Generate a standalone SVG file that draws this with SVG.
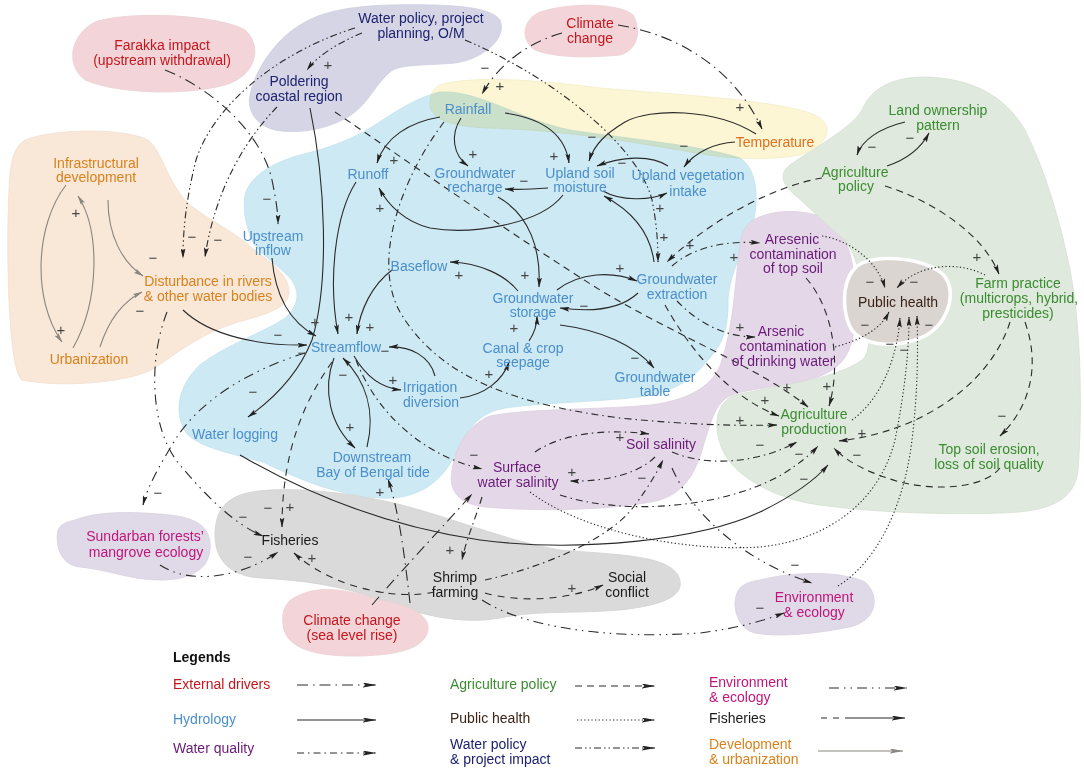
<svg xmlns="http://www.w3.org/2000/svg" width="1084" height="771" viewBox="0 0 1084 771">
<defs>
<style>
.t{font-family:"Liberation Sans",Arial,sans-serif;font-size:14px;text-anchor:middle}
.lg{font-family:"Liberation Sans",Arial,sans-serif;font-size:14px}
.s{font-family:"Liberation Sans",Arial,sans-serif;font-size:15px;fill:#444;text-anchor:middle}
.red{fill:#c4161c}.navy{fill:#1e2270}.blue{fill:#4a8fca}.orange{fill:#d9821c}.temp{fill:#e0701f}.green{fill:#3a8c30}.purple{fill:#6a1a78}.brown{fill:#3a2418}.black{fill:#1a1a1a}.mag{fill:#c0157a}
.c{fill:none;stroke:#2a2a2a;stroke-width:1.1;marker-end:url(#ah)}
.ext{stroke-dasharray:11 5 1.5 5}
.wq{stroke-dasharray:7 4 1.5 4}
.ag{stroke-dasharray:7 5}
.ph{stroke-dasharray:1.3 2.3}
.wp{stroke-dasharray:7 3 1.5 3 1.5 3}
.env{stroke-dasharray:10 5 1.5 5 1.5 5}
.fi{stroke-dasharray:7 6}
.dev{stroke:#8a8580;marker-end:url(#ahg)}
.leg{fill:none;stroke:#2a2a2a;stroke-width:1.2;marker-end:url(#lh)}
</style>
<marker id="ah" viewBox="0 0 10 5" refX="9.5" refY="2.5" markerWidth="10" markerHeight="5" markerUnits="userSpaceOnUse" orient="auto"><path d="M0,0 L10,2.5 L0,5 L2,2.5 Z" fill="#222"/></marker>
<marker id="ahg" viewBox="0 0 10 5" refX="9.5" refY="2.5" markerWidth="10" markerHeight="5" markerUnits="userSpaceOnUse" orient="auto"><path d="M0,0 L10,2.5 L0,5 L2,2.5 Z" fill="#8a8580"/></marker>
<marker id="lh" viewBox="0 0 14 5" refX="13.5" refY="2.5" markerWidth="14" markerHeight="5" markerUnits="userSpaceOnUse" orient="auto"><path d="M0,0 L14,2.5 L0,5 L3,2.5 Z" fill="#222"/></marker>
<marker id="lhg" viewBox="0 0 14 5" refX="13.5" refY="2.5" markerWidth="14" markerHeight="5" markerUnits="userSpaceOnUse" orient="auto"><path d="M0,0 L14,2.5 L0,5 L3,2.5 Z" fill="#8a8580"/></marker>
</defs>
<rect width="1084" height="771" fill="#fff"/>

<g id="regions" stroke-width="0.8">
<path d="M95,22 C130,10 220,15 245,30 C262,45 258,75 225,85 C190,95 120,95 85,80 C65,65 70,35 95,22 Z" fill="#f3d5d9" stroke="#ead0d3"/>
<path d="M250,95 C255,70 275,40 300,25 C320,12 350,6 390,5 C440,4 490,5 500,20 C508,40 480,60 455,63 C420,66 400,64 390,72 C375,85 370,100 355,112 C335,128 300,135 275,130 C255,125 247,110 250,95 Z" fill="#d5d5e5" stroke="#cfcfe0"/>
<path d="M540,12 C570,2 620,3 633,15 C642,30 638,50 620,55 C590,58 555,58 535,50 C520,40 522,20 540,12 Z" fill="#f3d5d9" stroke="#ead0d3"/>
<path d="M25,140 C55,128 125,128 148,140 C162,150 168,185 190,205 C212,222 235,232 252,248 C270,262 290,275 289,293 C288,308 265,315 238,322 C205,332 180,350 155,368 C130,383 60,388 22,380 C8,370 6,250 9,190 C10,160 14,147 25,140 Z" fill="#f9e7d8" stroke="#f0dfd0"/>
<path d="M245,195 C250,175 275,162 300,155 C330,148 355,138 375,125 C395,112 415,98 440,92 C480,90 520,120 570,130 C620,138 700,145 740,158 C760,170 760,210 748,238 C738,258 727,285 728,305 C728,330 722,345 708,360 C688,385 665,395 630,398 C590,402 540,403 505,408 C475,413 465,435 455,455 C440,485 415,500 380,498 C340,496 300,480 265,463 C240,455 205,450 188,435 C172,415 178,385 200,365 C225,345 265,332 285,318 C300,305 300,290 290,278 C275,262 255,252 250,235 C245,222 243,208 245,195 Z" fill="#cde9f4" stroke="#c3e2ee"/>
<path d="M440,85 C470,75 540,80 600,88 C680,95 780,100 815,115 C835,125 830,145 800,155 C760,162 720,158 680,150 C620,140 560,130 490,128 C450,127 428,118 430,102 C431,92 434,88 440,85 Z" fill="#fcf6d4" stroke="#f2ecc8" style="mix-blend-mode:multiply"/>
<path d="M750,222 C770,208 810,208 832,222 C852,236 857,280 855,320 C853,350 845,368 815,378 C780,388 750,388 732,395 C715,402 712,420 705,440 C698,465 690,490 660,500 C620,510 540,512 485,507 C458,504 448,490 452,470 C456,445 468,425 490,416 C530,408 600,410 650,405 C690,400 715,385 722,360 C732,330 735,290 738,260 C740,240 742,230 750,222 Z" fill="#e4d8e8" stroke="#dccfe0"/>
<path d="M790,165 C810,150 850,130 862,110 C870,90 890,77 925,77 C970,78 1005,95 1025,130 C1045,170 1060,220 1070,270 C1082,330 1082,420 1078,470 C1075,500 1050,512 1000,513 C940,515 870,512 820,505 C780,500 740,480 725,455 C712,430 714,403 735,395 C770,387 835,380 862,360 C880,348 860,255 845,240 C830,228 812,210 795,195 C780,183 780,172 790,165 Z" fill="#dfe9dd" stroke="#d5e0d3"/>
<path d="M862,265 C882,256 925,260 942,276 C956,292 946,322 925,334 C900,346 868,346 854,330 C843,314 842,276 862,265 Z" fill="#dad5d1" stroke="#fff" stroke-width="7" paint-order="stroke"/>
<path d="M240,495 C270,485 330,490 380,500 C440,512 500,540 560,550 C620,555 665,555 678,575 C688,595 665,605 620,610 C570,614 540,610 500,618 C460,625 420,615 380,600 C340,585 300,580 260,578 C230,576 215,560 215,535 C215,515 222,502 240,495 Z" fill="#dadada" stroke="#d2d2d2"/>
<path d="M300,595 C320,585 350,590 380,600 C410,605 430,615 428,630 C425,648 400,655 360,656 C320,657 290,650 284,630 C280,612 285,600 300,595 Z" fill="#f3d5d9" stroke="#ead0d3"/>
<path d="M75,520 C100,510 140,512 170,515 C200,518 212,530 210,550 C208,570 190,580 160,580 C130,580 110,570 80,567 C60,565 55,545 58,530 C60,525 65,522 75,520 Z" fill="#e0dae8" stroke="#d8d2e0"/>
<path d="M760,580 C790,572 840,570 865,582 C880,595 878,620 850,627 C820,633 780,638 755,633 C735,628 730,600 740,588 C745,583 752,581 760,580 Z" fill="#e0dae8" stroke="#d8d2e0"/>
</g>

<g id="connectors">
<path class="c dev" d="M66,185 C35,225 32,300 62,342"/>
<path class="c dev" d="M73,348 C100,300 100,230 78,196"/>
<path class="c dev" d="M108,200 C108,235 122,262 143,276"/>
<path class="c dev" d="M100,347 C108,322 122,302 142,292"/>
<path class="c ext" d="M165,70 C215,90 262,135 272,180 C276,200 278,212 278,224"/>
<path class="c ext" d="M562,33 C530,42 500,62 482,94"/>
<path class="c ext" d="M618,25 C680,35 735,70 762,129"/>
<path class="c ext" d="M410,603 C405,560 400,515 388,479"/>
<path class="c ext" d="M372,605 C400,572 440,530 472,494"/>
<path class="c wp" d="M362,33 C340,42 318,55 307,70"/>
<path class="c wp" d="M355,28 C270,55 212,110 196,160 C186,200 183,230 183,258"/>
<path class="c wp" d="M277,107 C245,140 215,190 205,257"/>
<path class="c wp" d="M465,40 C560,80 640,150 652,200 C657,225 658,245 658,262"/>
<path class="c" d="M440,117 C410,122 385,137 377,163"/>
<path class="c" d="M461,118 C450,135 453,155 468,166"/>
<path class="c" d="M505,113 C540,118 565,132 569,163"/>
<path class="c" d="M756,134 C715,108 650,108 625,122 C605,134 594,145 589,161"/>
<path class="c" d="M735,142 C715,143 695,152 684,167"/>
<path class="c" d="M668,166 C650,154 620,157 597,166"/>
<path class="c" d="M603,191 C620,201 650,201 667,193"/>
<path class="c" d="M548,188 C535,189 520,190 505,189"/>
<path class="c" d="M563,195 C540,225 470,235 430,228 C405,222 388,205 379,188"/>
<path class="c" d="M356,182 C335,215 328,280 338,334"/>
<path class="c" d="M272,258 C275,295 290,322 316,336"/>
<path class="c" d="M392,270 C372,285 360,310 357,334"/>
<path class="c" d="M518,291 C505,275 480,263 450,262"/>
<path class="c" d="M498,197 C530,215 541,250 539,287"/>
<path class="c" d="M557,290 C580,272 612,271 637,281"/>
<path class="c" d="M638,293 C620,310 590,312 560,308"/>
<path class="c" d="M560,325 C600,330 635,345 654,368"/>
<path class="c" d="M529,341 C535,332 537,323 537,316"/>
<path class="c" d="M460,398 C485,395 503,380 509,362"/>
<path class="c" d="M354,356 C365,375 380,388 401,390"/>
<path class="c" d="M435,376 C430,356 410,346 389,347"/>
<path class="c" d="M334,358 C322,390 330,425 355,448"/>
<path class="c" d="M367,447 C376,410 365,380 343,358"/>
<path class="c" d="M183,310 C210,336 260,346 307,345"/>
<path class="c" d="M310,108 C325,180 330,280 312,340 C298,375 272,400 248,417"/>
<path class="c" d="M240,455 C300,490 380,525 480,540 C580,553 700,540 760,512 C795,495 815,480 828,465"/>
<path class="c" d="M654,262 C650,230 630,210 604,196"/>
<path class="c" d="M887,166 C905,160 920,150 929,133"/>
<path class="c" d="M905,122 C880,128 862,140 857,155"/>
<path class="c fi" d="M332,362 C305,400 282,450 282,527"/>
<path class="c fi" d="M434,592 C400,600 335,590 294,553"/>
<path class="c fi" d="M485,593 C520,603 570,600 603,585"/>
<path class="c ag" d="M822,178 C780,185 715,215 667,262"/>
<path class="c ag" d="M885,186 C930,200 982,232 999,274"/>
<path class="c ag" d="M1025,322 C1042,370 1027,410 1000,436"/>
<path class="c ag" d="M1010,322 C990,385 920,432 839,441"/>
<path class="c ag" d="M1000,468 C985,487 940,492 900,482 C865,472 845,460 834,448"/>
<path class="c ag" d="M665,305 C690,350 730,398 779,416"/>
<path class="c ag" d="M335,112 C420,170 520,240 600,290 C680,338 760,368 808,407"/>
<path class="c ag" d="M806,278 C836,312 840,370 829,406"/>
<path class="c wq" d="M672,266 C692,248 725,240 760,243"/>
<path class="c wq" d="M677,301 C695,320 722,337 755,337"/>
<path class="c wq" d="M356,360 C375,410 420,455 482,469"/>
<path class="c wq" d="M535,452 C560,435 600,428 649,434"/>
<path class="c wq" d="M655,457 C640,472 610,482 570,481"/>
<path class="c wq" d="M482,497 C475,520 466,540 462,560"/>
<path class="c wq" d="M672,452 C710,468 760,462 797,442"/>
<path class="c wq" d="M560,495 C620,515 720,510 783,474 C800,463 810,455 818,446"/>
<path class="c wq" d="M485,580 C540,568 610,540 635,505 C650,485 658,470 663,460"/>
<path class="c wq" d="M444,122 C400,180 372,262 400,312 C440,380 520,405 620,418 C690,425 740,426 777,425"/>
<path class="c env" d="M305,353 C250,370 200,400 175,440 C160,465 148,485 143,505"/>
<path class="c env" d="M167,312 C148,360 150,430 180,465 C205,495 235,525 263,536"/>
<path class="c env" d="M160,565 C190,585 240,578 278,552"/>
<path class="c env" d="M482,600 C520,625 600,640 700,633 C740,628 765,620 784,613"/>
<path class="c env" d="M672,468 C690,510 740,560 812,583"/>
<path class="c ph" d="M822,236 C850,240 878,262 885,288"/>
<path class="c ph" d="M985,275 C960,262 920,262 897,288"/>
<path class="c ph" d="M835,347 C860,340 880,330 889,312"/>
<path class="c ph" d="M852,420 C880,400 897,360 900,318"/>
<path class="c ph" d="M530,492 C580,530 680,552 760,547 C830,540 880,500 895,440 C905,390 909,350 909,317"/>
<path class="c ph" d="M838,586 C880,560 905,500 912,440 C918,390 918,350 917,316"/>
</g>

<g id="polarity">
<text class="s" x="328" y="70">+</text><text class="s" x="76" y="218">+</text><text class="s" x="61" y="335">+</text>
<text class="s" x="315" y="327">+</text><text class="s" x="349" y="322">+</text><text class="s" x="370" y="332">+</text>
<text class="s" x="393" y="385">+</text><text class="s" x="350" y="432">+</text><text class="s" x="380" y="497">+</text>
<text class="s" x="290" y="512">+</text><text class="s" x="394" y="165">+</text><text class="s" x="473" y="159">+</text>
<text class="s" x="554" y="161">+</text><text class="s" x="380" y="213">+</text><text class="s" x="660" y="213">+</text>
<text class="s" x="664" y="242">+</text><text class="s" x="690" y="250">+</text><text class="s" x="740" y="112">+</text>
<text class="s" x="977" y="262">+</text><text class="s" x="734" y="262">+</text><text class="s" x="500" y="91">+</text>
<text class="s" x="459" y="280">+</text><text class="s" x="525" y="280">+</text><text class="s" x="620" y="273">+</text>
<text class="s" x="514" y="333">+</text><text class="s" x="489" y="379">+</text><text class="s" x="620" y="442">+</text>
<text class="s" x="572" y="477">+</text><text class="s" x="740" y="332">+</text><text class="s" x="787" y="392">+</text>
<text class="s" x="827" y="391">+</text><text class="s" x="765" y="405">+</text><text class="s" x="740" y="425">+</text>
<text class="s" x="862" y="438">+</text><text class="s" x="312" y="563">+</text><text class="s" x="450" y="555">+</text>
<text class="s" x="572" y="593">+</text>
<text class="s" x="267" y="204">−</text><text class="s" x="192" y="242">−</text><text class="s" x="218" y="245">−</text>
<text class="s" x="153" y="263">−</text><text class="s" x="140" y="316">−</text><text class="s" x="278" y="340">−</text>
<text class="s" x="302" y="358">−</text><text class="s" x="385" y="356">−</text><text class="s" x="253" y="397">−</text>
<text class="s" x="343" y="380">−</text><text class="s" x="158" y="498">−</text><text class="s" x="268" y="513">−</text>
<text class="s" x="243" y="522">−</text><text class="s" x="248" y="562">−</text><text class="s" x="485" y="73">−</text>
<text class="s" x="592" y="142">−</text><text class="s" x="684" y="151">−</text><text class="s" x="622" y="168">−</text>
<text class="s" x="524" y="186">−</text><text class="s" x="584" y="311">−</text><text class="s" x="635" y="363">−</text>
<text class="s" x="474" y="460">−</text><text class="s" x="642" y="483">−</text><text class="s" x="872" y="152">−</text>
<text class="s" x="910" y="143">−</text><text class="s" x="870" y="287">−</text><text class="s" x="914" y="287">−</text>
<text class="s" x="865" y="330">−</text><text class="s" x="890" y="349">−</text><text class="s" x="904" y="355">−</text>
<text class="s" x="929" y="330">−</text><text class="s" x="760" y="450">−</text><text class="s" x="799" y="459">−</text>
<text class="s" x="857" y="460">−</text><text class="s" x="804" y="484">−</text><text class="s" x="1002" y="421">−</text>
<text class="s" x="795" y="570">−</text><text class="s" x="760" y="613">−</text>
</g>

<g id="farakka"><text class="t red" x="162" y="50">Farakka impact</text><text class="t red" x="162" y="65">(upstream withdrawal)</text></g>
<g id="water-policy"><text class="t navy" x="421" y="23">Water policy, project</text><text class="t navy" x="421" y="38">planning, O/M</text></g>
<g id="poldering"><text class="t navy" x="299" y="86">Poldering</text><text class="t navy" x="299" y="101">coastal region</text></g>
<g id="climate-change"><text class="t red" x="590" y="28">Climate</text><text class="t red" x="590" y="43">change</text></g>
<g id="rainfall"><text class="t blue" x="468" y="114">Rainfall</text></g>
<g id="temperature"><text class="t temp" x="775" y="147">Temperature</text></g>
<g id="land-ownership"><text class="t green" x="938" y="115">Land ownership</text><text class="t green" x="938" y="130">pattern</text></g>
<g id="agriculture-policy"><text class="t green" x="855" y="177">Agriculture</text><text class="t green" x="856" y="191">policy</text></g>
<g id="runoff"><text class="t blue" x="368" y="179">Runoff</text></g>
<g id="gw-recharge"><text class="t blue" x="475" y="178">Groundwater</text><text class="t blue" x="475" y="192">recharge</text></g>
<g id="upland-soil"><text class="t blue" x="580" y="178">Upland soil</text><text class="t blue" x="580" y="192">moisture</text></g>
<g id="upland-veg"><text class="t blue" x="688" y="180">Upland vegetation</text><text class="t blue" x="688" y="196">intake</text></g>
<g id="infrastructure"><text class="t orange" x="96" y="168">Infrastructural</text><text class="t orange" x="96" y="182">development</text></g>
<g id="upstream-inflow"><text class="t blue" x="273" y="241">Upstream</text><text class="t blue" x="273" y="255">inflow</text></g>
<g id="disturbance"><text class="t orange" x="208" y="286">Disturbance in rivers</text><text class="t orange" x="208" y="301">&amp; other water bodies</text></g>
<g id="urbanization"><text class="t orange" x="89" y="364">Urbanization</text></g>
<g id="baseflow"><text class="t blue" x="419" y="271">Baseflow</text></g>
<g id="gw-storage"><text class="t blue" x="533" y="303">Groundwater</text><text class="t blue" x="533" y="317">storage</text></g>
<g id="gw-extraction"><text class="t blue" x="677" y="284">Groundwater</text><text class="t blue" x="677" y="299">extraction</text></g>
<g id="arsenic-soil"><text class="t purple" x="792" y="244">Aresenic</text><text class="t purple" x="793" y="259">contamination</text><text class="t purple" x="793" y="273">of top soil</text></g>
<g id="public-health"><text class="t brown" x="898" y="307">Public health</text></g>
<g id="farm-practice"><text class="t green" x="1018" y="288">Farm practice</text><text class="t green" x="1019" y="303">(multicrops, hybrid,</text><text class="t green" x="1018" y="318">presticides)</text></g>
<g id="streamflow"><text class="t blue" x="346" y="352">Streamflow</text></g>
<g id="canal-seepage"><text class="t blue" x="523" y="353">Canal &amp; crop</text><text class="t blue" x="523" y="367">seepage</text></g>
<g id="irrigation"><text class="t blue" x="430" y="392">Irrigation</text><text class="t blue" x="431" y="407">diversion</text></g>
<g id="gw-table"><text class="t blue" x="655" y="382">Groundwater</text><text class="t blue" x="655" y="396">table</text></g>
<g id="arsenic-water"><text class="t purple" x="781" y="336">Arsenic</text><text class="t purple" x="783" y="351">contamination</text><text class="t purple" x="783" y="366">of drinking water</text></g>
<g id="agri-production"><text class="t green" x="814" y="419">Agriculture</text><text class="t green" x="814" y="434">production</text></g>
<g id="top-soil"><text class="t green" x="989" y="454">Top soil erosion,</text><text class="t green" x="989" y="469">loss of soil quality</text></g>
<g id="water-logging"><text class="t blue" x="235" y="439">Water logging</text></g>
<g id="downstream"><text class="t blue" x="372" y="462">Downstream</text><text class="t blue" x="373" y="477">Bay of Bengal tide</text></g>
<g id="soil-salinity"><text class="t purple" x="661" y="449">Soil salinity</text></g>
<g id="surface-salinity"><text class="t purple" x="517" y="472">Surface</text><text class="t purple" x="518" y="487">water salinity</text></g>
<g id="sundarban"><text class="t mag" x="145" y="541">Sundarban forests’</text><text class="t mag" x="146" y="557">mangrove ecology</text></g>
<g id="fisheries"><text class="t black" x="290" y="545">Fisheries</text></g>
<g id="shrimp"><text class="t black" x="455" y="582">Shrimp</text><text class="t black" x="455" y="597">farming</text></g>
<g id="social-conflict"><text class="t black" x="627" y="582">Social</text><text class="t black" x="627" y="597">conflict</text></g>
<g id="climate-sea"><text class="t red" x="352" y="625">Climate change</text><text class="t red" x="352" y="640">(sea level rise)</text></g>
<g id="environment"><text class="t mag" x="814" y="602">Environment</text><text class="t mag" x="814" y="617">&amp; ecology</text></g>

<g id="legend">
<text class="lg" x="173" y="662" font-weight="bold" fill="#111">Legends</text>
<text class="lg red" x="173" y="689">External drivers</text>
<text class="lg blue" x="173" y="724">Hydrology</text>
<text class="lg purple" x="173" y="753">Water quality</text>
<text class="lg green" x="450" y="689">Agriculture policy</text>
<text class="lg brown" x="450" y="723">Public health</text>
<text class="lg navy" x="450" y="749">Water policy</text>
<text class="lg navy" x="450" y="764">&amp; project impact</text>
<text class="lg mag" x="709" y="687">Environment</text>
<text class="lg mag" x="709" y="702">&amp; ecology</text>
<text class="lg black" x="709" y="723">Fisheries</text>
<text class="lg orange" x="709" y="749">Development</text>
<text class="lg orange" x="709" y="764">&amp; urbanization</text>
<path class="leg ext" d="M297,685 L376,685"/>
<path class="leg" d="M297,720 L376,720"/>
<path class="leg wq" d="M297,753 L376,753"/>
<path class="leg ag" d="M575,686 L655,686"/>
<path class="leg ph" d="M577,720 L655,720"/>
<path class="leg wp" d="M575,748 L655,748"/>
<path class="leg env" d="M829,688 L907,688"/>
<path class="leg" style="stroke-dasharray:6 6 6 6 60" d="M821,718 L905,718"/>
<path class="leg" style="stroke:#8a8580;marker-end:url(#lhg)" d="M818,751 L903,751"/>
</g>
</svg>
